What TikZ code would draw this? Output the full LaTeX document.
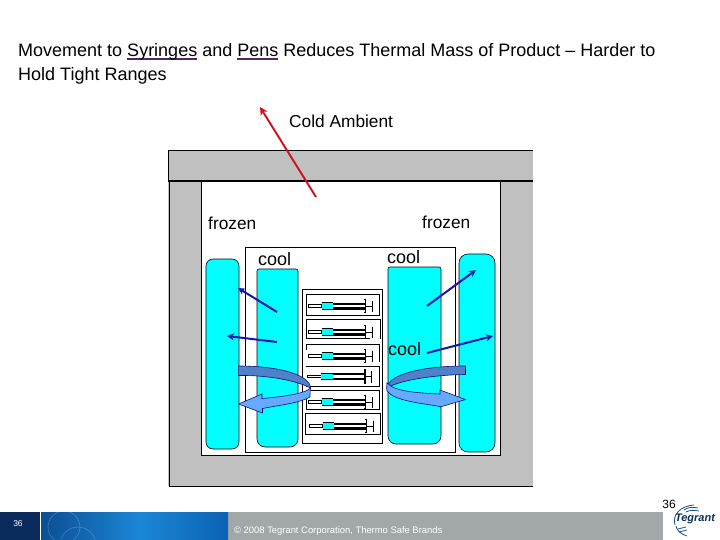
\documentclass[tikz,border=0pt]{standalone}
\usepackage{fontspec}
\setmainfont{Liberation Sans}
\usetikzlibrary{arrows.meta}
\definecolor{wallgray}{HTML}{C0C0C0}
\definecolor{coldcyan}{HTML}{00FFFF}
\definecolor{ulc}{HTML}{4B2A6B}
\definecolor{redarrow}{HTML}{D01018}
\definecolor{bluearrow}{HTML}{1414B4}
\definecolor{bandtop}{HTML}{4F81C8}
\definecolor{bandlow}{HTML}{66AAFF}
\definecolor{navy}{HTML}{0A2A5C}
\definecolor{footgray}{HTML}{A2A7A9}
\definecolor{tegblue}{HTML}{14508C}
\definecolor{stripL}{HTML}{0B4F94}
\definecolor{stripM}{HTML}{1C86D6}
\definecolor{stripR}{HTML}{0A62B4}
\newcommand{\ulword}[1]{\setbox0\hbox{#1}\rlap{\color{ulc}\rule[-2.6pt]{\wd0}{1.9pt}}#1}
\newcommand{\syrbody}[2]{%
  \begin{scope}[shift={(#1,#2)}]
    \draw[line width=.7pt,fill=white] (0,-1.2) rectangle (13.5,1.2);
    \fill[coldcyan] (13.5,-3.2) rectangle (25,3.2);
    \draw[line width=1pt] (13.5,-3.2) -- (25,-3.2) (13.5,3.2) -- (25,3.2);
    \draw[line width=1.7pt] (25,-2.2) -- (57,-2.2);
    \draw[line width=2.2pt] (25,2.4) -- (57,2.4);
    \draw[line width=.9pt] (57,0) -- (64,0);
    \draw[line width=1.2pt] (56,-6.5) -- (57.5,-6.5) -- (57.5,6.5) -- (56,6.5);
    \draw[line width=.8pt] (64,-5.5) -- (64,6);
  \end{scope}}
\tikzset{
  lab/.style={inner sep=0pt,anchor=west,font=\fontsize{17.3}{19}\selectfont},
  coollab/.style={inner sep=0pt,anchor=west,font=\fontsize{18}{20}\selectfont},
  ttl/.style={inner sep=0pt,anchor=base west,font=\fontsize{18}{20}\selectfont},
  cold/.style={draw=black,line width=.6pt,fill=coldcyan},
  pane/.style={draw=black,line width=1pt,fill=white},
  heat/.style={line width=2pt,draw=bluearrow,-{Stealth[length=7pt,width=7pt]}},
  holder/.style={line width=.8pt,draw=black}
}
\begin{document}
\begin{tikzpicture}[x=1pt,y=-1pt]
\useasboundingbox (0,0) rectangle (720,540);
\fill[white] (0,0) rectangle (720,540);
% title
\node[ttl] (title1) at (18,57) {Movement to \ulword{Syringes} and \ulword{Pens} Reduces Thermal Mass of Product – Harder to};
\node[ttl] (title2) at (18,80.5) {Hold Tight Ranges};
% container
\fill[wallgray] (168,150) rectangle (533,486);
\draw[line width=.8pt] (533,150) -- (168,150) -- (168,181);
\draw[line width=.8pt] (169,181) -- (169,486) -- (533,486);
\draw[pane] (201,181) rectangle (500,455.5);
\draw[line width=1.4pt] (168,181) -- (533,181);
\draw[holder,fill=white] (245.5,247) rectangle (455.5,452);
% cold packs
\draw[cold,rounded corners=7pt] (206,259) rectangle (239,449);
\draw[cold,rounded corners=9pt] (459,254) rectangle (495,452);
\draw[cold] [rounded corners=2pt] (257,358) -- (257,269) -- (298,269) -- (298,358) [rounded corners=8pt] -- (298,447) -- (257,447) -- cycle;
\draw[cold] [rounded corners=2pt] (388,355) -- (388,267) -- (441,267) -- (441,355) [rounded corners=8pt] -- (441,444) -- (388,444) -- cycle;
\node[lab] (t1) at (289,121) {Cold Ambient};
\node[lab] (t2) at (208,223.5) {frozen};
\node[lab] (t3) at (422,222.5) {frozen};
\node[coollab] (t4) at (258,259) {cool};
\node[coollab] (t5) at (387,257) {cool};
\node[coollab] (t6) at (388,349) {cool};
% syringe tray
\draw[holder,fill=white] (302.5,289.5) rectangle (382.5,443.5);
\draw[holder] (306,294) -- (379,294) -- (379,315.5) -- (306,315.5) -- (306,294);
\draw[holder] (306,319.5) -- (380,319.5) -- (380,338.5);
\draw[holder] (306,319.5) -- (306,338.5) -- (370,338.5);
\draw[holder] (306,350) -- (306,344) -- (379,344) -- (379,361.5);
\draw[holder] (306,366) -- (379,366) -- (379,386.5) -- (306,386.5);
\draw[holder] (306,390) -- (379,390) -- (379,409.5) -- (306,409.5) -- cycle;
\draw[holder] (305,433.5) -- (305,413.5) -- (380,413.5) -- (380,434.5) -- (305,434.5);
\syrbody{308.3}{306}
\syrbody{308.3}{332}
\syrbody{308.3}{356}
\syrbody{307.5}{376.5}
\syrbody{308.3}{402}
\syrbody{309}{426}
% heat arrows
\coordinate (rs) at (316,197); \coordinate (re) at (260,107);
\draw[line width=1.9pt,draw=redarrow,-{Stealth[length=8pt,width=8pt]}] (rs) -- (re);
\coordinate (a1) at (277,312); \coordinate (a2) at (238,288);
\coordinate (b1) at (277,342); \coordinate (b2) at (227,336);
\coordinate (c1) at (427,306); \coordinate (c2) at (476,270);
\coordinate (d1) at (427,353); \coordinate (d2) at (493,336);
\draw[heat] (a1) -- (a2);
\draw[heat] (b1) -- (b2);
\draw[heat] (c1) -- (c2);
\draw[heat] (d1) -- (d2);
% circulation, left
\draw[line width=.6pt,draw=bluearrow!70!black,fill=bandtop] (238.3,366) .. controls (280,366) and (310,375) .. (310.5,388)
  .. controls (297,381) and (270,375) .. (238.3,375.5) -- cycle;
\draw[line width=.6pt,draw=bluearrow!70!black,fill=bandlow] (310.5,388) .. controls (310,391) and (310,394) .. (310,397)
  .. controls (300,403) and (280,405) .. (262.5,408.5) -- (262.5,413) -- (238.5,404) -- (262,394) -- (262,398.5)
  .. controls (280,397) and (305,394) .. (310.5,388) -- cycle;
% circulation, right
\draw[line width=.6pt,draw=bluearrow!70!black,fill=bandtop] (465.5,366) .. controls (420,366) and (388,375) .. (387,388)
  .. controls (398,381) and (430,375) .. (465.5,374.5) -- cycle;
\draw[line width=.6pt,draw=bluearrow!70!black,fill=bandlow] (387,383) .. controls (386,386) and (387,390) .. (387,391)
  .. controls (395,401) and (420,403) .. (440,406.5) -- (440,407) -- (465.5,399.5) -- (440,390) -- (440,394)
  .. controls (420,393) and (395,392) .. (387,383) -- cycle;
% footer
\fill[navy] (0,512) rectangle (40,540);
\fill[footgray] (228,512) rectangle (663,540);
\shade[left color=stripL,right color=stripM] (41,512) rectangle (140,540);
\shade[left color=stripM,right color=stripR] (140,512) rectangle (228,540);
\draw[white,line width=.5pt,opacity=.25] (64,527) circle (16) (78,545) circle (18);
\node[inner sep=0pt,text=white,font=\fontsize{8.5}{10}\selectfont] (pg) at (18,524) {36};
\node[inner sep=0pt,anchor=west,text=white,font=\fontsize{9.4}{10}\selectfont] (copy) at (234,531) {© 2008 Tegrant Corporation, Thermo Safe Brands};
\node[inner sep=0pt,font=\fontsize{12}{14}\selectfont] (pgnum) at (669,504.5) {36};
\node[inner sep=0pt,text=tegblue!60!black,font=\bfseries\itshape\fontsize{11}{13}\selectfont] (logo) at (695,519) {Tegrant};
\draw[tegblue,line width=.8pt] (675,525) .. controls (672,515) and (680,506) .. (694,505);
\draw[tegblue,line width=.8pt] (684,510) .. controls (688,507) and (692,507) .. (698,508);
\draw[tegblue,line width=.8pt] (686,512) .. controls (690,510) and (694,510) .. (699,511);
\draw[tegblue,line width=.8pt] (676,526) .. controls (677,531) and (681,534) .. (687,536);
\draw[tegblue,line width=.8pt] (678,529) -- (686,527) (679,532) -- (687,530);
\end{tikzpicture}
\end{document}
